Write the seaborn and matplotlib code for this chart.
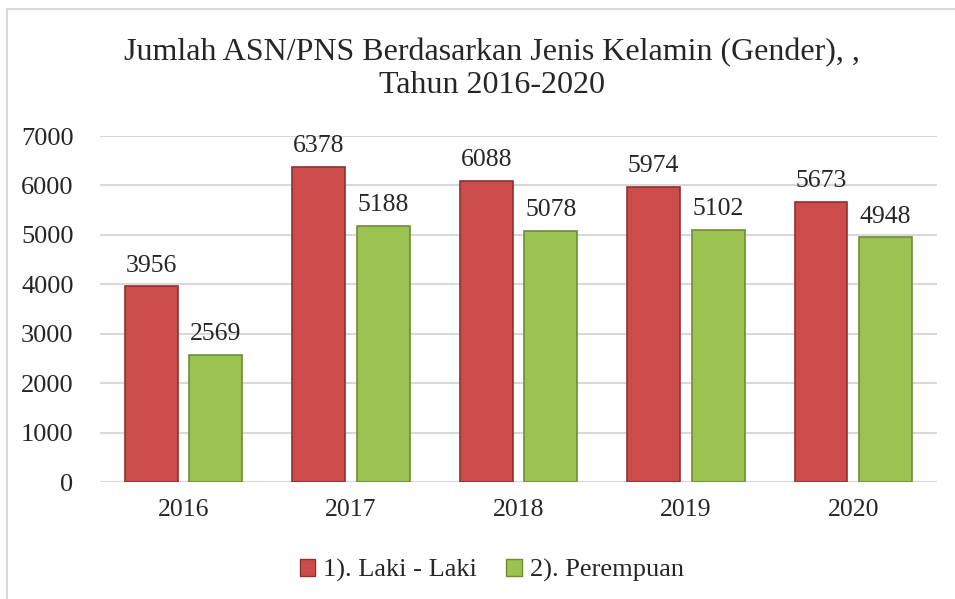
"""Bar chart of ASN/PNS counts by gender, 2016-2020."""

import matplotlib
matplotlib.use("Agg")
import matplotlib.pyplot as plt
import pandas as pd
import seaborn as sns
from matplotlib.lines import Line2D
from matplotlib.patches import Patch

# Data
tahun = ["2016", "2017", "2018", "2019", "2020"]
laki_laki = [3956, 6378, 6088, 5974, 5673]
perempuan = [2569, 5188, 5078, 5102, 4948]
gender_labels = ["1). Laki - Laki", "2). Perempuan"]
y_ticks = [0, 1000, 2000, 3000, 4000, 5000, 6000, 7000]

title = "Jumlah ASN/PNS Berdasarkan Jenis Kelamin (Gender), ,\nTahun 2016-2020"

# Colours
face_colors = {"1). Laki - Laki": "#CB4C4B", "2). Perempuan": "#9CC252"}
edge_colors = {"1). Laki - Laki": "#8E3130", "2). Perempuan": "#6E8C38"}

# Long format table for seaborn
df = pd.DataFrame(
    {
        "Tahun": tahun * 2,
        "Gender": [gender_labels[0]] * len(tahun) + [gender_labels[1]] * len(tahun),
        "Jumlah": laki_laki + perempuan,
    }
)

sns.set_style("white")
plt.rcParams["font.family"] = ["Liberation Serif", "DejaVu Serif"]

fig = plt.figure(figsize=(9.55, 5.99), dpi=100)
ax = fig.add_axes([0.1047, 0.1953, 0.8764, 0.5776])

sns.barplot(
    data=df,
    x="Tahun",
    y="Jumlah",
    hue="Gender",
    hue_order=gender_labels,
    palette=face_colors,
    saturation=1,
    width=0.77,
    gap=0.18,
    legend=False,
    ax=ax,
    zorder=3,
)

# Darker outline on each series, then value labels
for container, label in zip(ax.containers, gender_labels):
    for bar in container:
        bar.set_edgecolor(edge_colors[label])
        bar.set_linewidth(1.2)
    ax.bar_label(container, fmt="%d", padding=7, fontsize=18.5)

ax.set_ylim(0, 7000)
ax.set_xlim(-0.5, len(tahun) - 0.5)
ax.set_yticks(y_ticks)
ax.yaxis.grid(True, color="#D9D9D9", linewidth=1.5, zorder=0)
ax.set_axisbelow(True)
for spine in ax.spines.values():
    spine.set_visible(False)
ax.tick_params(axis="y", labelsize=19, length=0, pad=19)
ax.tick_params(axis="x", labelsize=18.5, length=0, pad=12)
ax.set_xlabel("")
ax.set_ylabel("")

fig.text(0.5147, 0.885, title, ha="center", va="center", fontsize=23, linespacing=1.2)

# Legend at the bottom
handles = [
    Patch(facecolor=face_colors[g], edgecolor=edge_colors[g], label=g)
    for g in gender_labels
]
fig.legend(
    handles=handles,
    loc="center",
    bbox_to_anchor=(0.515, 0.047),
    ncol=2,
    frameon=False,
    fontsize=19,
    handlelength=0.6,
    handleheight=0.6,
    handletextpad=0.3,
    columnspacing=1.1,
)

# Chart border (top and left edges visible)
fig.add_artist(Line2D([7 / 955, 1], [1 - 9 / 599] * 2, color="#D9D9D9", linewidth=1.5))
fig.add_artist(Line2D([7 / 955] * 2, [0, 1 - 9 / 599], color="#D9D9D9", linewidth=1.5))

fig.savefig("out.png", dpi=100)
plt.close(fig)
